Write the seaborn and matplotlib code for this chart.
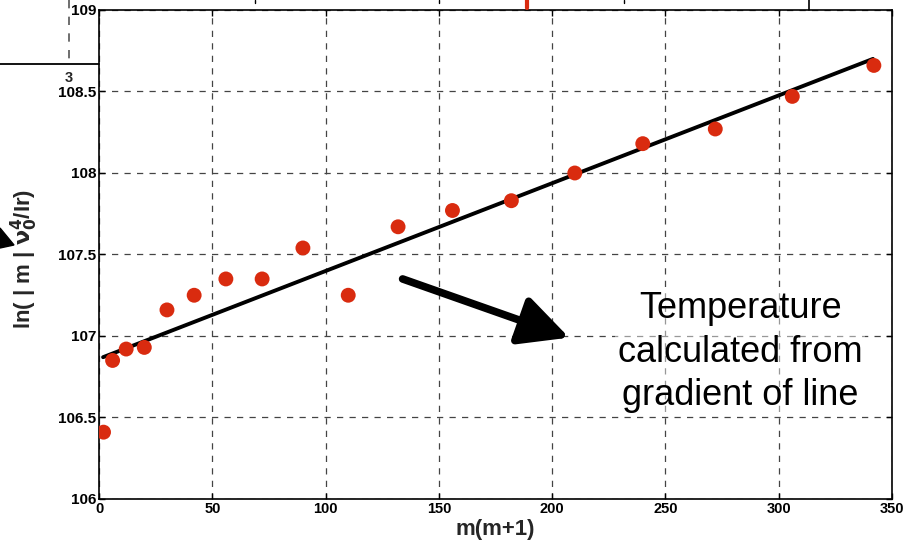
import matplotlib
matplotlib.use("Agg")
import matplotlib.pyplot as plt
import seaborn as sns
import pandas as pd
from matplotlib.lines import Line2D

# ---- data ----
m_m1 = [2, 6, 12, 20, 30, 42, 56, 72, 90, 110, 132, 156, 182, 210, 240, 272, 306, 342]
ln_val = [106.41, 106.85, 106.92, 106.93, 107.16, 107.25, 107.35, 107.35, 107.54,
          107.25, 107.67, 107.77, 107.83, 108.00, 108.18, 108.27, 108.47, 108.66]
fit_x = [1.8, 341.6]
fit_y = [106.87, 108.70]
x_ticks = [0, 50, 100, 150, 200, 250, 300, 350]
y_ticks = [106, 106.5, 107, 107.5, 108, 108.5, 109]
y_tick_labels = ["106", "106.5", "107", "107.5", "108", "108.5", "109"]

pts = pd.DataFrame({"x": m_m1, "y": ln_val})
fit = pd.DataFrame({"x": fit_x, "y": fit_y})

sns.set_theme(style="white")
plt.rcParams['font.family'] = ['Liberation Sans', 'DejaVu Sans']

W, H = 905, 544
fig = plt.figure(figsize=(W / 100, H / 100), dpi=100)
ax = fig.add_axes([99 / W, 1 - 499 / H, (892 - 99) / W, (499 - 10) / H])

sns.lineplot(data=fit, x="x", y="y", ax=ax, color="black", linewidth=2.8, zorder=3)
sns.scatterplot(data=pts, x="x", y="y", ax=ax, color="#d92b0f", s=115,
                edgecolor="none", zorder=4)

ax.set_xlim(0, 350)
ax.set_ylim(106, 109)
ax.set_xticks(x_ticks)
ax.set_xticklabels([str(v) for v in x_ticks], fontsize=10.5, fontweight="bold")
ax.set_yticks(y_ticks)
ax.set_yticklabels(y_tick_labels, fontsize=11, fontweight="bold")
ax.tick_params(direction="in", length=4, width=1, top=True, right=True,
               bottom=True, left=True, pad=2, colors="black")
ax.grid(True, color="#444444", linestyle=(0, (5, 5)), linewidth=0.9)
for s in ax.spines.values():
    s.set_color("black")
    s.set_linewidth(1.2)

ax.set_xlabel("m(m+1)", fontsize=16, fontweight="bold", labelpad=2)
ax.set_ylabel(r"ln( | m | $\mathbf{\nu_0^4}$/Ir)", fontsize=16, fontweight="bold")
ax.yaxis.set_label_coords(-0.074, 0.49)

# annotation arrow and text
ax.annotate("", xy=(207.5, 106.99), xytext=(134, 107.35),
            arrowprops=dict(arrowstyle="-|>,head_length=1.5,head_width=0.75",
                            mutation_scale=20, color="black", lw=5.5,
                            shrinkA=0, shrinkB=0),
            zorder=5)
ax.text(283, 106.90, "Temperature\ncalculated from\ngradient of line",
        ha="center", va="center", fontsize=26, linespacing=1.32, color="black",
        bbox=dict(facecolor="white", alpha=0.45, edgecolor="none", pad=2), zorder=5)

# fragments of the neighbouring figure at the edges of the screenshot
def fline(x0, y0, x1, y1, **kw):
    fig.add_artist(Line2D([x0 / W, x1 / W], [1 - y0 / H, 1 - y1 / H],
                          transform=fig.transFigure, **kw))

fline(0, 64, 99, 64, color="black", lw=1.3)
fline(69, 0, 69, 62, color="#555555", lw=1.2, linestyle=(0, (5, 5)))
fline(255, 0, 255, 3, color="black", lw=1)
fline(439, 0, 439, 3, color="black", lw=1)
fline(624, 0, 624, 3, color="black", lw=1)
fline(809, 0, 809, 10, color="black", lw=1.2)
fline(527, 0, 527, 8, color="#d92b0f", lw=3)
fig.text(69 / W, 1 - 78 / H, "3", ha="center", va="center", fontsize=10.5, fontweight="bold")
fig.add_artist(plt.Polygon([[0, 1 - 228 / H], [14 / W, 1 - 245 / H], [0, 1 - 248 / H]],
                           closed=True, color="black", transform=fig.transFigure))

fig.savefig("out.png", dpi=100)
